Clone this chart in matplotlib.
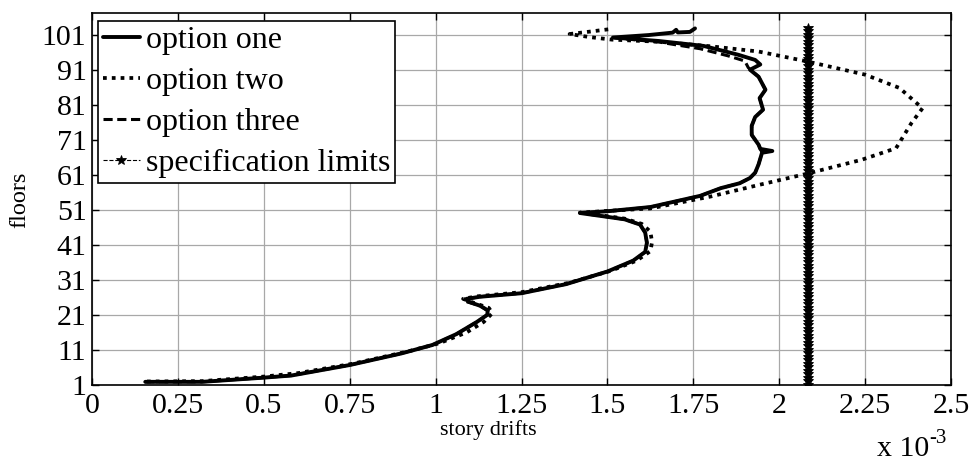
import matplotlib
matplotlib.use("Agg")
import matplotlib.pyplot as plt

plt.rcParams['font.family'] = ['Liberation Serif', 'DejaVu Serif']
plt.rcParams['mathtext.fontset'] = 'custom'
plt.rcParams['mathtext.rm'] = 'Liberation Serif'

# ---- data (story drift in units of 1e-3, floor) ----
one_drift = [0.155, 0.32, 0.50, 0.58, 0.75, 0.90, 0.99, 1.06, 1.12, 1.15, 1.152, 1.13, 1.095,
             1.09, 1.13, 1.25, 1.38, 1.50, 1.575, 1.61, 1.615, 1.61, 1.595, 1.55, 1.50, 1.42,
             1.50, 1.625, 1.77, 1.83, 1.885, 1.915, 1.93, 1.94, 1.95, 1.98, 1.945, 1.94, 1.92,
             1.92, 1.93, 1.953, 1.943, 1.96, 1.94, 1.915, 1.945, 1.93, 1.88, 1.78, 1.65, 1.516,
             1.62, 1.69, 1.70, 1.705, 1.74, 1.755]
one_floor = [1.9, 1.9, 3.1, 3.7, 6.7, 10.0, 12.4, 15.5, 19.0, 21.0, 22.3, 23.6, 24.8,
             25.6, 26.2, 27.2, 29.8, 33.4, 36.5, 39.0, 41.6, 44.5, 46.8, 48.3, 49.0, 50.1,
             50.6, 51.8, 55.0, 57.2, 58.6, 60.1, 61.6, 64.0, 67.3, 67.8, 68.4, 69.6, 72.4,
             75.0, 77.5, 79.6, 82.9, 85.3, 89.0, 91.0, 92.5, 93.8, 95.3, 97.8, 99.2, 100.2,
             100.9, 101.6, 102.4, 101.65, 101.8, 102.8]

two_drift = [0.16, 0.32, 0.50, 0.60, 0.76, 0.92, 1.01, 1.09, 1.14, 1.165, 1.155, 1.11, 1.08,
             1.12, 1.25, 1.39, 1.51, 1.585, 1.625, 1.63, 1.625, 1.60, 1.55, 1.50, 1.42, 1.50,
             1.625, 1.80, 1.94, 2.08, 2.24, 2.34, 2.385, 2.417, 2.35, 2.25, 2.08, 1.94, 1.80,
             1.65, 1.513, 1.45, 1.39, 1.45, 1.516]
two_floor = [2.0, 2.1, 3.4, 4.4, 7.1, 10.6, 12.9, 16.0, 19.0, 21.5, 23.0, 24.5, 25.6,
             26.3, 27.5, 30.2, 33.6, 36.5, 39.2, 41.8, 44.8, 47.0, 48.5, 49.2, 50.2, 50.7,
             51.4, 54.8, 58.1, 61.3, 65.3, 68.6, 75.8, 80.0, 85.8, 89.6, 93.4, 96.2, 97.7,
             99.0, 99.6, 100.3, 101.2, 101.9, 102.7]

three_drift = [0.155, 0.32, 0.50, 0.58, 0.75, 0.90, 0.99, 1.06, 1.12, 1.15, 1.15, 1.13, 1.09,
               1.085, 1.13, 1.25, 1.38, 1.50, 1.575, 1.61, 1.615, 1.61, 1.595, 1.55, 1.50, 1.42,
               1.50, 1.625, 1.77, 1.83, 1.885, 1.915, 1.93, 1.94, 1.95, 1.94, 1.92, 1.92, 1.93,
               1.953, 1.943, 1.96, 1.94, 1.91, 1.90, 1.85, 1.77, 1.65, 1.52]
three_floor = [1.9, 1.9, 3.1, 3.7, 6.7, 10.0, 12.4, 15.5, 19.0, 21.0, 22.3, 23.6, 24.8,
               25.5, 26.2, 27.2, 29.8, 33.4, 36.5, 39.0, 41.6, 44.5, 46.8, 48.3, 49.0, 50.1,
               50.6, 51.8, 55.0, 57.2, 58.6, 60.1, 61.6, 64.0, 67.3, 69.6, 72.4, 75.0, 77.5,
               79.6, 82.9, 85.3, 89.0, 91.6, 93.5, 95.0, 97.0, 98.9, 100.1]

spec_limit = 2.083
spec_floors = list(range(1, 104))
spec_drift = [spec_limit] * len(spec_floors)

x_ticks = [0, 0.25, 0.5, 0.75, 1, 1.25, 1.5, 1.75, 2, 2.25, 2.5]
x_ticklabels = ['0', '0.25', '0.5', '0.75', '1', '1.25', '1.5', '1.75', '2', '2.25', '2.5']
y_ticks = [1, 11, 21, 31, 41, 51, 61, 71, 81, 91, 101]

# ---- figure ----
W, H = 971, 461
fig = plt.figure(figsize=(W / 100, H / 100), dpi=100)
ax = fig.add_axes([92 / W, 1 - 385 / H, (951 - 92) / W, (385 - 13) / H])

ax.plot(one_drift, one_floor, color='black', lw=2.8, ls='-', label='option one',
        solid_joinstyle='round', solid_capstyle='round', zorder=4)
ax.plot(two_drift, two_floor, color='black', lw=2.7, ls=(0, (1, 1.35)), label='option two',
        zorder=3)
ax.plot(three_drift, three_floor, color='black', lw=2.2, ls=(0, (3.0, 1.5)), label='option three',
        zorder=3)
ax.plot(spec_drift, spec_floors, color='black', lw=0.8, ls='--', marker='*', ms=7,
        markeredgewidth=0.6, label='specification limits', zorder=5)

ax.set_xlim(0, 2.5)
ax.set_ylim(1, 107.2)
ax.set_xticks(x_ticks)
ax.set_xticklabels(x_ticklabels)
ax.set_yticks(y_ticks)
ax.tick_params(axis='both', which='both', direction='in', length=5, width=1,
               top=True, right=True, labelsize=21.5, colors='black')
ax.tick_params(axis='x', pad=6)
ax.tick_params(axis='y', pad=4)
ax.grid(True, color='#a8a8a8', lw=0.9, ls='-')
ax.set_axisbelow(True)
for s in ax.spines.values():
    s.set_linewidth(1.2)
    s.set_color('black')

leg = ax.legend(loc='upper left', bbox_to_anchor=(6 / 859, (385 - 21) / 372),
                fontsize=23, frameon=True, fancybox=False, borderpad=0.15,
                labelspacing=0.36, handlelength=1.15, handletextpad=0.2,
                borderaxespad=0.0)
leg.get_frame().set_edgecolor('black')
leg.get_frame().set_linewidth(1.2)
leg.get_frame().set_alpha(1)

fig.text(488 / W, 1 - 430 / H, 'story drifts', fontsize=16, ha='center', va='center')
fig.text(20 / W, 1 - 200 / H, 'floors', fontsize=17.5, ha='center', va='center', rotation=90)
fig.text(877 / W, 1 - 456 / H, 'x 10', fontsize=21.5, ha='left', va='baseline')
fig.text(929 / W, 1 - 443 / H, '-3', fontsize=15, ha='left', va='baseline')

fig.savefig('out.png', dpi=100)
